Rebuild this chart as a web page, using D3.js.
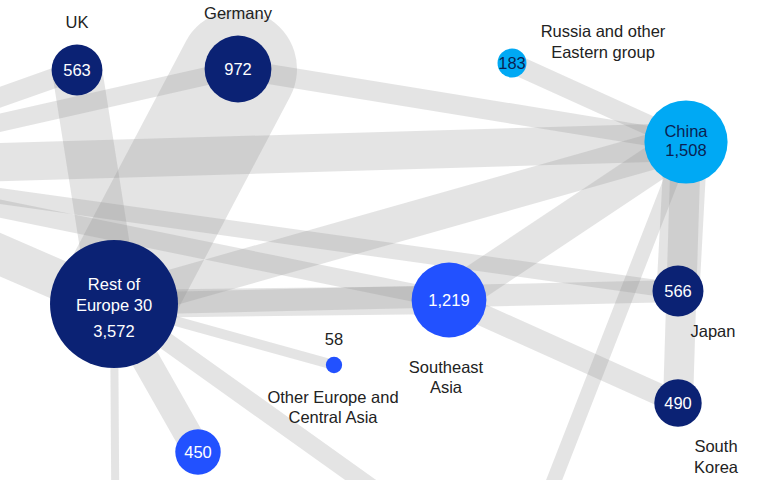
<!DOCTYPE html>
<html><head><meta charset="utf-8">
<script src="https://cdn.jsdelivr.net/npm/d3@7"></script>
<style>html,body{margin:0;padding:0;background:#fff;overflow:hidden}</style>
</head><body><svg id="chart" width="767" height="480"></svg>
<script>
// ---------------- data ----------------
const nodeIds    = ["UK","Germany","Russia","China","RestEurope","OtherEurope","SEAsia","Japan","SouthKorea","Node450","US","India","Africa"];
const nodeValues = [563, 972, 183, 1508, 3572, 58, 1219, 566, 490, 450, 2200, 900, 500];
const nodeGroups = ["europe","europe","eastern","eastern","europe","middle","middle","asia","asia","middle","west","middle","middle"];
const nodeLabels = [
  ["UK"], ["Germany"], ["Russia and other","Eastern group"], ["China"], ["Rest of","Europe 30"],
  ["Other Europe and","Central Asia"], ["Southeast","Asia"], ["Japan"], ["South","Korea"], [], [], [], []
];
const valueLabels = ["563","972","183","1,508","3,572","58","1,219","566","490","450","","",""];

const linkSources = ["US","US","US","US","US","US","UK","Germany","Germany","Russia","RestEurope","RestEurope","RestEurope","RestEurope","RestEurope","RestEurope","RestEurope","SEAsia","SEAsia","China","China","China"];
const linkTargets = ["UK","Germany","China","Japan","SEAsia","RestEurope","RestEurope","RestEurope","China","China","China","SEAsia","Japan","OtherEurope","Node450","India","Africa","China","SouthKorea","Japan","SouthKorea","India"];
const linkValues  = [100, 90, 190, 80, 90, 200, 250, 590, 100, 100, 180, 140, 110, 50, 140, 90, 40, 180, 110, 215, 150, 75];

// ---------------- layout (positions of the network nodes) ----------------
const layout = {
  UK:[77,70], Germany:[238,69], Russia:[512,63], China:[686,142], RestEurope:[114,304],
  OtherEurope:[334,365], SEAsia:[449,300], Japan:[678,291], SouthKorea:[678,403], Node450:[198,452],
  US:[-200,168], India:[512,588], Africa:[117,760]
};
// label placement: [dx, dy of first baseline, line spacing, anchor]
const labelPlace = {
  UK:[0,-42,21,"middle"], Germany:[0,-50,21,"middle"], Russia:[91,-26,21,"middle"],
  OtherEurope:[-1,38,20,"middle"], SEAsia:[-3,73,20,"middle"], Japan:[35,46,20,"middle"], SouthKorea:[38,49,21,"middle"]
};

const colors = {europe:"#0b2274", eastern:"#00a9f4", middle:"#2251ff", asia:"#0b2274", west:"#0b2274"};

// ---------------- drawing ----------------
const svg = d3.select("#chart");
const W = 767, H = 480;
const r = d3.scaleSqrt().domain([0, 3572]).range([0, 64]);
const w = d3.scaleLinear().domain([0, 590]).range([0, 118]);

const nodes = nodeIds.map((id,i)=>({id, value:nodeValues[i], group:nodeGroups[i], lines:nodeLabels[i], vlabel:valueLabels[i], x:layout[id][0], y:layout[id][1]}));
const byId = new Map(nodes.map(n=>[n.id,n]));
const links = linkSources.map((s,i)=>({source:byId.get(s), target:byId.get(linkTargets[i]), value:linkValues[i]}));

svg.append("g").selectAll("line").data(links).join("line")
  .attr("x1",d=>d.source.x).attr("y1",d=>d.source.y)
  .attr("x2",d=>d.target.x).attr("y2",d=>d.target.y)
  .attr("stroke","#8f8f8f").attr("stroke-opacity",0.24)
  .attr("stroke-width",d=>w(d.value)).attr("stroke-linecap","round");

const visible = nodes.filter(n=>n.x>-50 && n.x<W+50 && n.y>-50 && n.y<H+50);

svg.append("g").selectAll("circle").data(visible).join("circle")
  .attr("cx",d=>d.x).attr("cy",d=>d.y).attr("r",d=>r(d.value))
  .attr("fill",d=>colors[d.group]);

const font = "'Liberation Sans', Arial, sans-serif";
const fs = 16.5;

// values inside circles
const inside = svg.append("g").attr("font-family",font).attr("font-size",fs).attr("text-anchor","middle");
visible.forEach(n=>{
  const dark = n.group==="eastern";
  const fill = dark ? "#0b1f52" : "#ffffff";
  if (n.id==="China"){
    inside.append("text").attr("x",n.x).attr("y",n.y-5).attr("fill",fill).text(n.lines[0]);
    inside.append("text").attr("x",n.x).attr("y",n.y+14).attr("fill",fill).text(n.vlabel);
  } else if (n.id==="RestEurope"){
    inside.append("text").attr("x",n.x).attr("y",n.y-14).attr("fill",fill).text(n.lines[0]);
    inside.append("text").attr("x",n.x).attr("y",n.y+7).attr("fill",fill).text(n.lines[1]);
    inside.append("text").attr("x",n.x).attr("y",n.y+33).attr("fill",fill).text(n.vlabel);
  } else if (n.id==="OtherEurope"){
    inside.append("text").attr("x",n.x).attr("y",n.y-20).attr("fill","#222").text(n.vlabel);
  } else if (n.vlabel){
    inside.append("text").attr("x",n.x).attr("y",n.y+6).attr("fill",fill).text(n.vlabel);
  }
});

// outside labels
const outer = svg.append("g").attr("font-family",font).attr("font-size",fs).attr("fill","#222");
visible.forEach(n=>{
  const p = labelPlace[n.id];
  if(!p) return;
  n.lines.forEach((ln,i)=>{
    outer.append("text").attr("x",n.x+p[0]).attr("y",n.y+p[1]+i*p[2]).attr("text-anchor",p[3]).text(ln);
  });
});
</script>
</body></html>
